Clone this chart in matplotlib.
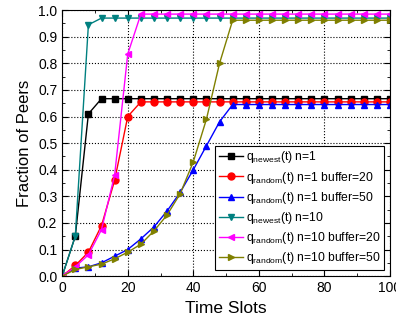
import matplotlib
matplotlib.use("Agg")
import matplotlib.pyplot as plt
import numpy as np
from matplotlib.ticker import MultipleLocator

plt.rcParams['font.family'] = ['Liberation Sans', 'DejaVu Sans']
plt.rcParams['mathtext.fontset'] = 'custom'
plt.rcParams['mathtext.rm'] = 'Liberation Sans'

t = list(range(0, 101, 4))

newest_n1 = [0.0, 0.15, 0.61, 0.667] + [0.667] * 22
random_n1_b20 = [0.0, 0.04, 0.09, 0.19, 0.36, 0.60, 0.655] + [0.655] * 19
random_n1_b50 = [0.0, 0.03, 0.035, 0.05, 0.075, 0.10, 0.14, 0.185, 0.245, 0.315,
                 0.40, 0.49, 0.58, 0.645] + [0.645] * 12
newest_n10 = [0.0, 0.15, 0.945, 0.97] + [0.97] * 22
random_n10_b20 = [0.0, 0.035, 0.08, 0.175, 0.38, 0.835, 0.985] + [0.985] * 19
random_n10_b50 = [0.0, 0.025, 0.035, 0.045, 0.065, 0.09, 0.12, 0.17, 0.23, 0.31,
                  0.43, 0.59, 0.80, 0.962] + [0.962] * 12

labels = [r"q$_\mathrm{newest}$(t) n=1",
          r"q$_\mathrm{random}$(t) n=1 buffer=20",
          r"q$_\mathrm{random}$(t) n=1 buffer=50",
          r"q$_\mathrm{newest}$(t) n=10",
          r"q$_\mathrm{random}$(t) n=10 buffer=20",
          r"q$_\mathrm{random}$(t) n=10 buffer=50"]
series = [newest_n1, random_n1_b20, random_n1_b50, newest_n10, random_n10_b20, random_n10_b50]
colors = ["black", "red", "blue", "#008080", "#ff00ff", "#808000"]
markers = ["s", "o", "^", "v", "<", ">"]

fig = plt.figure(figsize=(3.96, 3.26), dpi=100)
ax = fig.add_axes([0.157, 0.153, 0.828, 0.816])

for y, c, m, lab in zip(series, colors, markers, labels):
    ax.plot(t, y, color=c, marker=m, markersize=5, linewidth=1, label=lab)

ax.set_xlim(0, 100)
ax.set_ylim(0, 1.0)
ax.xaxis.set_major_locator(MultipleLocator(20))
ax.xaxis.set_minor_locator(MultipleLocator(10))
ax.yaxis.set_major_locator(MultipleLocator(0.1))
ax.yaxis.set_minor_locator(MultipleLocator(0.05))
ax.yaxis.set_major_formatter(matplotlib.ticker.FormatStrFormatter('%.1f'))
ax.tick_params(which='both', direction='in', top=True, right=True, labelsize=10)
ax.tick_params(which='major', length=4)
ax.tick_params(which='minor', length=2)
ax.grid(True, which='major', linestyle=':', color='black', linewidth=0.8)
ax.set_axisbelow(True)
ax.set_xlabel("Time Slots", fontsize=12.5)
ax.set_ylabel("Fraction of Peers", fontsize=12)

leg = ax.legend(loc='lower right', fontsize=8.7, frameon=True, fancybox=False,
                edgecolor='black', borderpad=0.3, labelspacing=0.35,
                handlelength=2.0, handletextpad=0.2, borderaxespad=0.5,
                framealpha=1)
leg.get_frame().set_linewidth(0.8)

fig.savefig("out.png", dpi=100)
